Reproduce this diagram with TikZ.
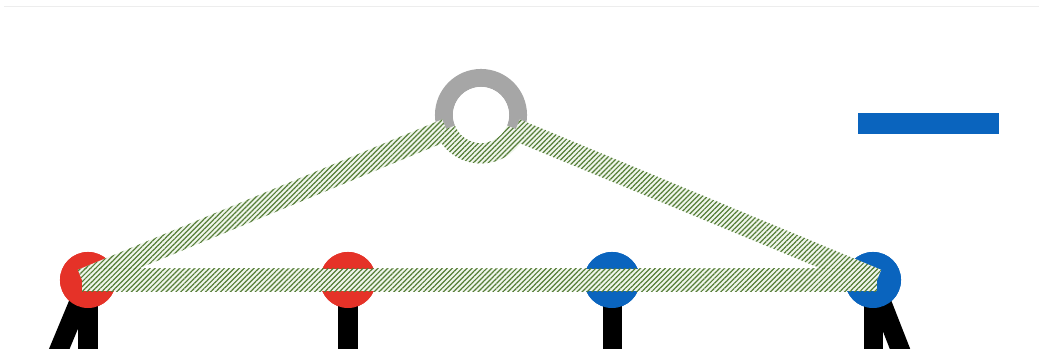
\documentclass[tikz,border=0pt]{standalone}
\usetikzlibrary{calc,patterns.meta}
\definecolor{dotred}{RGB}{229,50,40}
\definecolor{dotblue}{RGB}{10,100,190}
\definecolor{ringgray}{RGB}{166,166,166}
\definecolor{hatchgreen}{RGB}{85,125,55}
\definecolor{palegreen}{RGB}{240,246,236}
\tikzset{
  dot/.style={circle,inner sep=0pt,minimum size=0.56cm},
  leg/.style={line width=0.19cm,black},
  band/.style={fill=palegreen,postaction={pattern={Lines[angle=45,distance=0.035cm,line width=0.012cm]},pattern color=hatchgreen}},
}
% hatched strip of half width 0.11cm between two points
\newcommand\hatchband[2]{%
  \fill[band] ($(#1)!0.11cm!90:(#2)$) -- ($(#2)!0.11cm!-90:(#1)$)
    -- ($(#2)!0.11cm!90:(#1)$) -- ($(#1)!0.11cm!-90:(#2)$) -- cycle;}
\begin{document}
\begin{tikzpicture}[x=0.01cm,y=-0.01cm]
\useasboundingbox (0,0) rectangle (1039,349);
\clip (0,0) rectangle (1039,349);
\draw[black!7,line width=0.01cm](4,7)--(1039,7);

% legs first, dots on top
\node[dot,fill=dotred] (r1) at (88,280) {};
\node[dot,fill=dotred] (r2) at (348,280) {};
\node[dot,fill=dotblue] (b1) at (612,280) {};
\node[dot,fill=dotblue] (b2) at (873,280) {};
\coordinate (r1a) at (38,400);
\coordinate (r1b) at (88,400);
\coordinate (r2a) at (348,400);
\coordinate (b1a) at (612,400);
\coordinate (b2a) at (873,400);
\coordinate (b2b) at (920,400);
\foreach \a/\b in {r1/r1a,r1/r1b,r2/r2a,b1/b1a,b2/b2a,b2/b2b}
    \draw[leg](\a.center)--(\b);
\foreach \n/\c in {r1/dotred,r2/dotred,b1/dotblue,b2/dotblue}
    \fill[\c](\n) circle (0.28cm);

\node[circle,draw=ringgray,line width=0.18cm,minimum size=0.74cm,inner sep=0pt] (top) at (481,115) {};
\node[fill=dotblue,minimum width=1.41cm,minimum height=0.21cm,inner sep=0pt] (bar) at (928.5,123.5) {};

% hatched triangle, running round the bottom of the ring
\coordinate (bl) at (82,280);
\coordinate (br) at (877,280);
\coordinate (pl) at ($(top.center)!0.375cm!(r1)$);
\coordinate (pr) at ($(top.center)!0.375cm!(b2)$);
\hatchband{bl}{pl}
\hatchband{pr}{br}
\hatchband{bl}{br}
\fill[band,shift={(top.center)}] plot[domain=202:338,samples=40](\x:0.485cm)
    -- plot[domain=338:202,samples=40](\x:0.265cm) -- cycle;
\fill[white](top) circle (0.28cm);
\end{tikzpicture}
\end{document}
